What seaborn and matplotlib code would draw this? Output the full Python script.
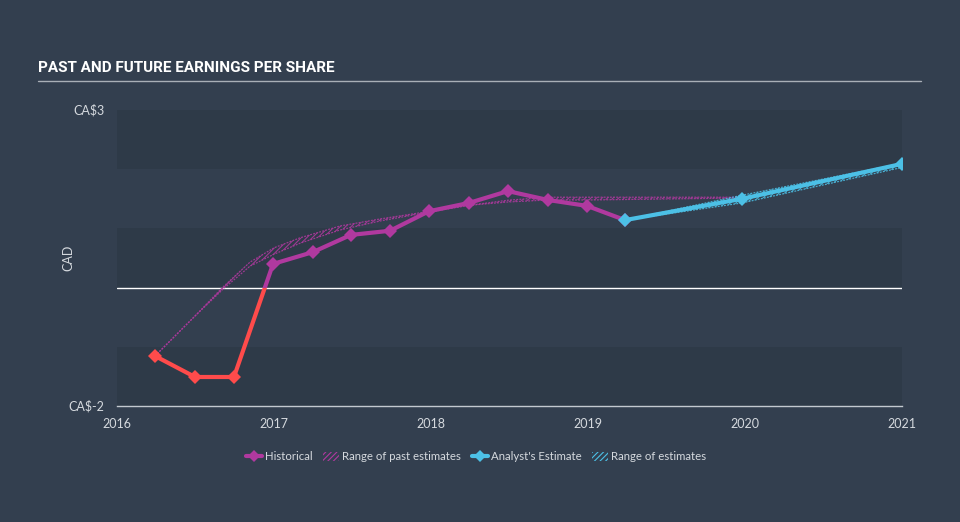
import matplotlib
matplotlib.use("Agg")
import matplotlib.pyplot as plt
import seaborn as sns
import pandas as pd
from matplotlib.lines import Line2D
from matplotlib.patches import Patch, Rectangle

# ---- data ----
hist_t = [2016.242, 2016.497, 2016.745, 2016.994, 2017.248, 2017.490, 2017.739,
          2017.987, 2018.242, 2018.490, 2018.745, 2018.994, 2019.236]
hist_v = [-1.155, -1.51, -1.51, 0.40, 0.60, 0.89, 0.96, 1.29, 1.43, 1.63, 1.48, 1.38, 1.14]

est_t = [2019.236, 2019.981, 2021.0]
est_v = [1.14, 1.50, 2.09]
est_low = [1.14, 1.43, 2.03]
est_high = [1.14, 1.56, 2.10]

past_t = [2016.242, 2016.465, 2016.675, 2016.847, 2017.0, 2017.166, 2017.420,
          2017.675, 2017.994, 2018.242, 2018.490, 2018.745, 2019.0, 2019.98]
past_high = [-1.155, -0.564, 0.01, 0.43, 0.672, 0.841, 1.04, 1.159, 1.29, 1.39,
             1.476, 1.527, 1.527, 1.527]
past_low = [-1.155, -0.564, -0.027, 0.362, 0.564, 0.75, 0.973, 1.125, 1.277, 1.39,
            1.446, 1.48, 1.48, 1.514]

x_ticks = [2016, 2017, 2018, 2019, 2020, 2021]
y_ticks = [-2, 3]
y_tick_labels = ["CA\\$-2", "CA\\$3"]
title = "PAST AND FUTURE EARNINGS PER SHARE"

# ---- style ----
BG = "#333f4f"
DARK = "#2e3a48"
MAG = "#b0399f"
RED = "#ff4b4b"
BLUE = "#4cc0e6"
TXT = "#d5d9de"

sns.set_style("dark")
plt.rcParams["font.family"] = ["Lato", "DejaVu Sans"]
plt.rcParams["hatch.linewidth"] = 0.8

fig = plt.figure(figsize=(9.6, 5.22), dpi=100, facecolor=BG)
ax = fig.add_axes([117 / 960, 1 - 406 / 522, (902 - 117) / 960, (406 - 110) / 522])
ax.set_facecolor(BG)

ax.set_xlim(2016, 2021)
ax.set_ylim(-2, 3)

for lo in [2, 0, -2]:
    ax.axhspan(lo, lo + 1, color=DARK, lw=0, zorder=0)
ax.axhline(0, color="white", lw=1, zorder=1)

# past estimate range
ax.fill_between(past_t, past_low, past_high, facecolor="none", edgecolor=MAG,
                hatch="//////", lw=0, alpha=0.85, zorder=2)
ax.plot(past_t, past_high, color=MAG, lw=0.9, ls=(0, (1.5, 1)), alpha=0.85, zorder=2)
ax.plot(past_t, past_low, color=MAG, lw=0.9, ls=(0, (1.5, 1)), alpha=0.85, zorder=2)
# estimate range
ax.fill_between(est_t, est_low, est_high, facecolor="none", edgecolor=BLUE,
                hatch="//////", lw=0, alpha=0.85, zorder=2)
ax.plot(est_t, est_high, color=BLUE, lw=0.9, ls=(0, (1.5, 1)), alpha=0.85, zorder=2)
ax.plot(est_t, est_low, color=BLUE, lw=0.9, ls=(0, (1.5, 1)), alpha=0.85, zorder=2)

# historical line, coloured by sign
hist_df = pd.DataFrame({"t": hist_t, "v": hist_v})
n0 = len(ax.lines)
sns.lineplot(data=hist_df, x="t", y="v", ax=ax, color=MAG, lw=3.0, marker="D",
             markersize=7, markeredgewidth=0, zorder=4, sort=False)
sns.lineplot(data=hist_df, x="t", y="v", ax=ax, color=RED, lw=3.0, marker="D",
             markersize=7, markeredgewidth=0, zorder=4, sort=False)
l_mag, l_red = ax.lines[n0], ax.lines[n0 + 1]
clip_pos = Rectangle((2015, 0), 10, 10, transform=ax.transData)
clip_neg = Rectangle((2015, -10), 10, 10, transform=ax.transData)
l_mag.set_clip_path(clip_pos)
l_red.set_clip_path(clip_neg)

est_df = pd.DataFrame({"t": est_t, "v": est_v})
sns.lineplot(data=est_df, x="t", y="v", ax=ax, color=BLUE, lw=3.0, marker="D",
             markersize=7, markeredgewidth=0, zorder=5, sort=False)

# axes styling
for s in ["top", "right", "left"]:
    ax.spines[s].set_visible(False)
ax.spines["bottom"].set_color("#c3c9d0")
ax.spines["bottom"].set_linewidth(1)
ax.set_xticks(x_ticks)
ax.set_xticklabels([str(t) for t in x_ticks])
ax.set_yticks(y_ticks)
ax.set_yticklabels(y_tick_labels)
ax.tick_params(axis="x", colors=TXT, length=7, width=1, direction="out",
               labelsize=9, pad=2, color="#c3c9d0")
ax.tick_params(axis="y", colors=TXT, length=0, labelsize=9, pad=9)
for lab in ax.get_yticklabels():
    lab.set_verticalalignment("center")
ax.set_xlabel("")
ax.set_ylabel("CAD", color=TXT, fontsize=9)
ax.yaxis.set_label_coords((74 - 117) / 785, 0.5)
ax.grid(False)

# title
fig.text(38 / 960, 1 - 68 / 522, title, color="white", fontsize=11,
         fontweight="bold", va="center", ha="left",
         family=["Roboto", "DejaVu Sans"])
fig.add_artist(Line2D([38 / 960, 921 / 960], [1 - 81 / 522, 1 - 81 / 522],
                      color="#a9afb7", lw=1))

# legend
handles = [
    Line2D([0], [0], color=MAG, lw=3, marker="D", markersize=6, markeredgewidth=0),
    Patch(facecolor="none", edgecolor=MAG, hatch="//////", lw=0),
    Line2D([0], [0], color=BLUE, lw=3, marker="D", markersize=6, markeredgewidth=0),
    Patch(facecolor="none", edgecolor=BLUE, hatch="//////", lw=0),
]
labels = ["Historical", "Range of past estimates", "Analyst's Estimate", "Range of estimates"]
leg = fig.legend(handles, labels, loc="center", bbox_to_anchor=(0.496, 1 - 457 / 522),
                 ncol=4, frameon=False, fontsize=8.2, labelcolor=TXT,
                 handlelength=1.4, handletextpad=0.3, columnspacing=0.9,
                 handleheight=0.8)

fig.savefig("out.png", dpi=100, facecolor=BG)
